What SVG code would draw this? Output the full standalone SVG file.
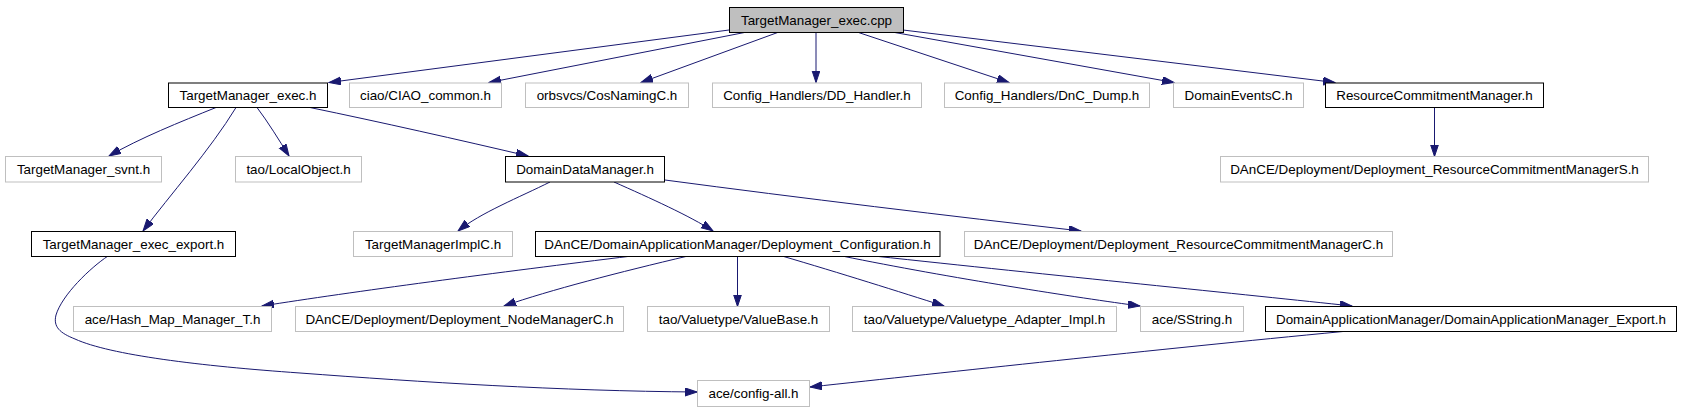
<svg xmlns="http://www.w3.org/2000/svg" width="1681" height="411" viewBox="0 0 1681 411">
<style>
.n rect{fill:#fff;stroke:#000;stroke-width:1}
.g rect{fill:#fff;stroke:#bfbfbf;stroke-width:1}
.root rect{fill:#bfbfbf;stroke:#000;stroke-width:1}
text{font-family:"Liberation Sans",Arial,sans-serif;font-size:13.4px;fill:#000;text-anchor:middle}
#edges path{fill:none;stroke:#191970;stroke-width:1;marker-end:url(#ah)}
</style>
<defs>
<marker id="ah" markerUnits="userSpaceOnUse" markerWidth="13" markerHeight="9" refX="12" refY="4" orient="auto">
<path d="M0,0 L12,4 L0,8 z" fill="#191970" stroke="#191970" stroke-width="1"/>
</marker>
</defs>
<rect width="1681" height="411" fill="#fff"/>
<g id="edges">
<path d="M729,30 L329,82.5"/>
<path d="M747,32 L489,82.5"/>
<path d="M779,32 L641,82.5"/>
<path d="M816,32 L816,82.5"/>
<path d="M857,32 L1009,82.5"/>
<path d="M892,32 L1174,82.5"/>
<path d="M903,30 L1335,82.5"/>
<path d="M1434.5,107.5 L1434.5,156.5"/>
<path d="M216,107.5 C180,122 140,138 109,156"/>
<path d="M257,107.5 C268,122 279,140 289,156"/>
<path d="M236,107.5 C210,150 170,195 143,231"/>
<path d="M310,107.5 C380,122 460,140 528,156"/>
<path d="M550,182 C520,197 480,213 458,231"/>
<path d="M614,182 C650,198 690,216 713,231"/>
<path d="M665,180 C800,198 950,216 1081,231"/>
<path d="M108,256 C90,268 62,295 56,315 C53,327 60,333 75,339 C110,355 200,366 300,373 C420,382 560,391 697,392"/>
<path d="M632,256 C500,272 350,292 262,306"/>
<path d="M688,256 C620,272 550,290 504,306"/>
<path d="M737.5,256 L737.5,306.5"/>
<path d="M782,256 C840,273 900,292 944,306"/>
<path d="M842,256 C950,278 1080,298 1140,306"/>
<path d="M874,256 C1050,275 1250,295 1352,306"/>
<path d="M1343,331.5 C1150,350 950,372 810,387"/>
</g>
<g id="n_cpp" class="root"><rect x="729.5" y="7.5" width="174" height="25"/><text x="816.5" y="24.5">TargetManager_exec.cpp</text></g>
<g id="n_exec_h" class="n"><rect x="168.5" y="83" width="159" height="24.5"/><text x="248" y="99.5">TargetManager_exec.h</text></g>
<g id="n_ciao" class="g"><rect x="349.5" y="83" width="152" height="24.5"/><text x="425.5" y="99.5">ciao/CIAO_common.h</text></g>
<g id="n_cosnaming" class="g"><rect x="525.5" y="83" width="163" height="24.5"/><text x="607" y="99.5">orbsvcs/CosNamingC.h</text></g>
<g id="n_dd" class="g"><rect x="712.5" y="83" width="209" height="24.5"/><text x="817" y="99.5">Config_Handlers/DD_Handler.h</text></g>
<g id="n_dnc" class="g"><rect x="944.5" y="83" width="205" height="24.5"/><text x="1047" y="99.5">Config_Handlers/DnC_Dump.h</text></g>
<g id="n_events" class="g"><rect x="1173.5" y="83" width="130" height="24.5"/><text x="1238.5" y="99.5">DomainEventsC.h</text></g>
<g id="n_rcm" class="n"><rect x="1325.5" y="83" width="218" height="24.5"/><text x="1434.5" y="99.5">ResourceCommitmentManager.h</text></g>
<g id="n_svnt" class="g"><rect x="5.5" y="156.5" width="156" height="25.5"/><text x="83.5" y="173.5">TargetManager_svnt.h</text></g>
<g id="n_local" class="g"><rect x="235.5" y="156.5" width="126" height="25.5"/><text x="298.5" y="173.5">tao/LocalObject.h</text></g>
<g id="n_ddm" class="n"><rect x="505.5" y="156.5" width="159" height="25.5"/><text x="585" y="173.5">DomainDataManager.h</text></g>
<g id="n_rcms" class="g"><rect x="1220.5" y="156.5" width="428" height="25.5"/><text x="1434.5" y="173.5">DAnCE/Deployment/Deployment_ResourceCommitmentManagerS.h</text></g>
<g id="n_export" class="n"><rect x="31.5" y="231.5" width="204" height="25"/><text x="133.5" y="248.5">TargetManager_exec_export.h</text></g>
<g id="n_implc" class="g"><rect x="353.5" y="231.5" width="159" height="25"/><text x="433" y="248.5">TargetManagerImplC.h</text></g>
<g id="n_dc" class="n"><rect x="535.5" y="231.5" width="404.5" height="25"/><text x="737.5" y="248.5">DAnCE/DomainApplicationManager/Deployment_Configuration.h</text></g>
<g id="n_rcmc" class="g"><rect x="964.5" y="231.5" width="428" height="25"/><text x="1178.5" y="248.5">DAnCE/Deployment/Deployment_ResourceCommitmentManagerC.h</text></g>
<g id="n_hash" class="g"><rect x="73.5" y="306.5" width="198" height="25"/><text x="172.5" y="323.5">ace/Hash_Map_Manager_T.h</text></g>
<g id="n_nodemgr" class="g"><rect x="295.5" y="306.5" width="328" height="25"/><text x="459.5" y="323.5">DAnCE/Deployment/Deployment_NodeManagerC.h</text></g>
<g id="n_valuebase" class="g"><rect x="647.5" y="306.5" width="182" height="25"/><text x="738.5" y="323.5">tao/Valuetype/ValueBase.h</text></g>
<g id="n_adapter" class="g"><rect x="852.5" y="306.5" width="264" height="25"/><text x="984.5" y="323.5">tao/Valuetype/Valuetype_Adapter_Impl.h</text></g>
<g id="n_sstring" class="g"><rect x="1140.5" y="306.5" width="103" height="25"/><text x="1192" y="323.5">ace/SString.h</text></g>
<g id="n_damexport" class="n"><rect x="1265.5" y="306.5" width="411" height="25"/><text x="1471" y="323.5">DomainApplicationManager/DomainApplicationManager_Export.h</text></g>
<g id="n_config" class="g"><rect x="697.5" y="380.5" width="112" height="26"/><text x="753.5" y="398">ace/config-all.h</text></g>
</svg>
